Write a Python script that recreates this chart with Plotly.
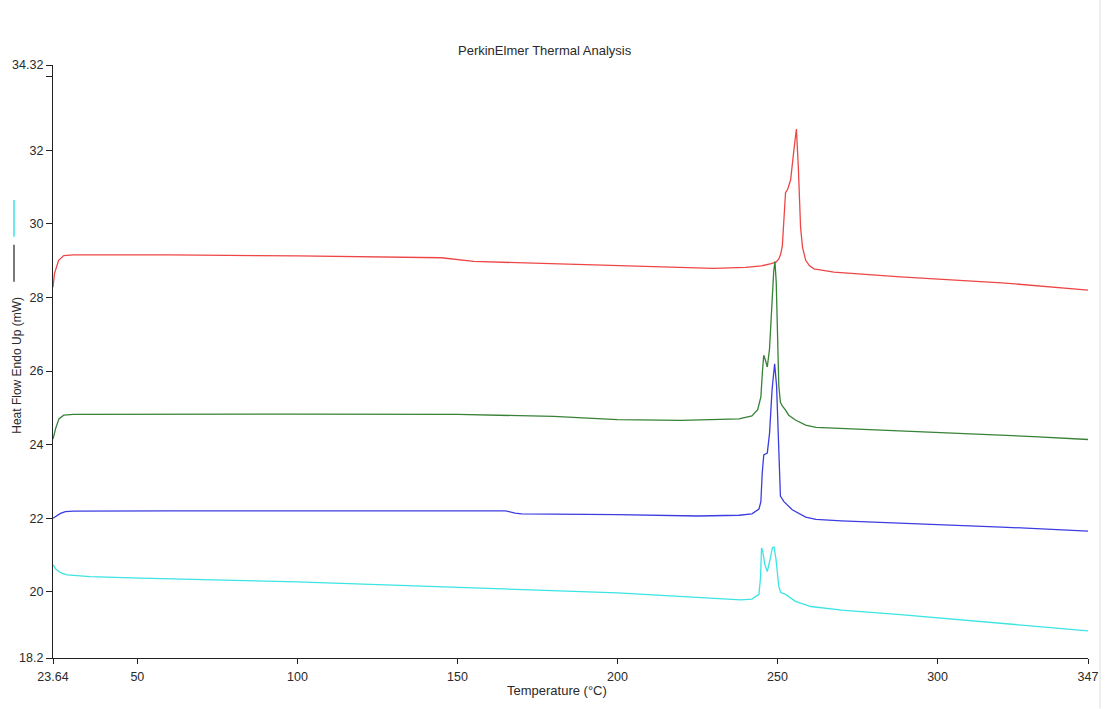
import plotly.graph_objects as go

# ---- data ----
red_T = [23.64, 24.1, 25.4, 27.0, 30, 60, 100, 140, 145, 155, 200, 230, 240, 245, 248, 249.5, 250.4,
         251.0, 251.5, 252.0, 252.5, 253.2, 254.1, 255.1, 255.9, 256.5, 257.2, 257.8, 258.8, 260.0,
         261.4, 267.6, 288.4, 320, 347]
red_y = [28.28, 28.65, 29.01, 29.14, 29.16, 29.16, 29.13, 29.1, 29.08, 28.98, 28.87, 28.79, 28.82,
         28.86, 28.92, 28.96, 29.05, 29.18, 29.4, 30.0, 30.85, 30.95, 31.2, 32.0, 32.58, 31.54, 29.91,
         29.37, 29.01, 28.86, 28.78, 28.69, 28.56, 28.4, 28.2]

green_T = [23.64, 24.5, 25.5, 27.0, 30, 60, 100, 150, 170, 180, 200, 220, 238, 242, 243.8, 244.8,
           245.3, 245.7, 246.2, 246.8, 247.5, 248.2, 248.8, 249.2, 249.6, 250.0, 250.4, 250.9,
           251.5, 252.5, 253.5, 255.6, 258.8, 262, 270, 288.4, 310, 330, 347]
green_y = [24.15, 24.45, 24.7, 24.8, 24.82, 24.83, 24.83, 24.82, 24.8, 24.77, 24.68, 24.66, 24.7,
           24.78, 24.95, 25.3, 26.0, 26.43, 26.3, 26.11, 26.6, 27.8, 28.7, 28.98, 28.4, 27.0, 25.6,
           25.15, 25.05, 24.94, 24.8, 24.67, 24.53, 24.47, 24.44, 24.39, 24.3, 24.22, 24.14]

blue_T = [23.64, 24.5, 26.0, 27.5, 30, 60, 100, 165, 168, 170, 200, 225, 238, 242, 244.2, 244.8,
          245.2, 245.7, 246.8, 247.5, 248.3, 249.1, 249.7, 250.3, 250.9, 252.0, 254.6, 258.8, 262,
          270, 288.4, 320, 347]
blue_y = [22.0, 22.05, 22.13, 22.18, 22.19, 22.2, 22.2, 22.2, 22.14, 22.12, 22.1, 22.06, 22.08,
          22.12, 22.25, 22.45, 23.2, 23.72, 23.77, 24.3, 25.5, 26.2, 25.6, 24.2, 22.6, 22.45, 22.23,
          22.03, 21.97, 21.93, 21.87, 21.76, 21.65]

cyan_T = [23.64, 24.5, 26.0, 28.0, 35.3, 51, 100, 150, 200, 238.5, 242, 244.2, 244.7, 245.0, 245.4,
          246.0, 246.8, 247.6, 248.4, 248.9, 249.5, 250.4, 251.0, 252.5, 255.6, 260.4, 270, 288.4,
          320, 347]
cyan_y = [20.73, 20.62, 20.52, 20.46, 20.41, 20.37, 20.27, 20.13, 19.97, 19.78, 19.8, 19.93, 20.4,
          21.19, 21.1, 20.75, 20.55, 20.85, 21.2, 21.22, 20.9, 20.14, 19.98, 19.93, 19.74, 19.6,
          19.5, 19.38, 19.15, 18.94]

x_tickvals = [23.64, 50, 100, 150, 200, 250, 300, 347]
x_ticktext = ["23.64", "50", "100", "150", "200", "250", "300", "347"]
y_tickvals = [18.2, 20, 22, 24, 26, 28, 30, 32, 34, 34.32]
y_ticktext = ["18.2", "20", "22", "24", "26", "28", "30", "32", "", "34.32"]

series = [
    (red_T, red_y, "rgb(238,70,70)"),
    (green_T, green_y, "rgb(55,130,55)"),
    (blue_T, blue_y, "rgb(60,60,225)"),
    (cyan_T, cyan_y, "rgb(60,228,228)"),
]

W, H = 1109, 709
L, R, T, B = 53, 1088, 65, 658.5

def px(x):
    return (x - L) / (R - L)

def py(y):
    return (B - y) / (B - T)

fig = go.Figure()
for xs, ys, c in series:
    fig.add_trace(go.Scatter(x=xs, y=ys, mode="lines", line=dict(color=c, width=1.3),
                             showlegend=False, hoverinfo="skip"))

fam = "Liberation Sans, Arial, sans-serif"
tickfont = dict(family=fam, size=12.5, color="#2a2a2a")
titlefont = dict(family=fam, size=13, color="#2a2a2a")
ytitlefont = dict(family=fam, size=12, color="#2a2a2a")

fig.update_layout(
    width=W, height=H,
    margin=dict(l=L, r=W - R, t=T, b=H - B),
    paper_bgcolor="white", plot_bgcolor="white",
    font=tickfont,
    xaxis=dict(range=[23.64, 347], tickvals=x_tickvals, ticktext=x_ticktext,
               showgrid=False, zeroline=False, showline=True, linecolor="#222", linewidth=1.2,
               ticks="outside", ticklen=5, tickcolor="#222", tickfont=tickfont,
               ticklabelstandoff=2),
    yaxis=dict(range=[18.2, 34.32], tickvals=y_tickvals, ticktext=y_ticktext,
               showgrid=False, zeroline=False, showline=True, linecolor="#222", linewidth=1.2,
               ticks="outside", ticklen=6, tickcolor="#222", tickfont=tickfont),
    annotations=[
        dict(text="PerkinElmer Thermal Analysis", x=px(545), y=py(50), xref="paper", yref="paper",
             showarrow=False, font=titlefont, xanchor="center", yanchor="middle"),
        dict(text="Temperature (°C)", x=px(557), y=py(691), xref="paper", yref="paper",
             showarrow=False, font=titlefont, xanchor="center", yanchor="middle"),
        dict(text="Heat Flow Endo Up (mW)", x=px(17), y=py(366), xref="paper", yref="paper",
             showarrow=False, font=ytitlefont, textangle=-90, xanchor="center", yanchor="middle"),
    ],
    shapes=[
        dict(type="line", xref="paper", yref="paper", x0=px(14), x1=px(14), y0=py(200), y1=py(237),
             line=dict(color="rgb(60,228,228)", width=1.5)),
        dict(type="line", xref="paper", yref="paper", x0=px(14), x1=px(14), y0=py(245), y1=py(282),
             line=dict(color="#222", width=1.2)),
        dict(type="line", xref="paper", yref="paper", x0=px(1100), x1=px(1100), y0=py(0), y1=py(709),
             line=dict(color="#dddddd", width=1)),
    ],
)

fig.write_html("out.html")
